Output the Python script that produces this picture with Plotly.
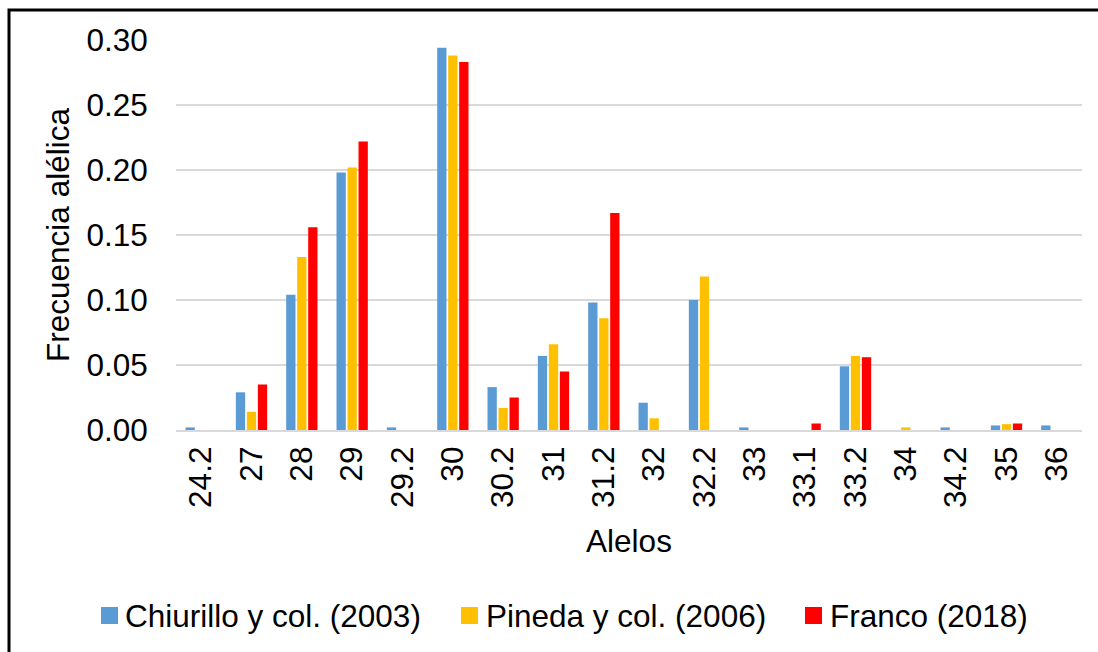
import plotly.graph_objects as go

# Allele categories (x axis)
alelos = ["24.2", "27", "28", "29", "29.2", "30", "30.2", "31", "31.2",
          "32", "32.2", "33", "33.1", "33.2", "34", "34.2", "35", "36"]

# Allele frequencies per study
chiurillo_2003 = [0.002, 0.029, 0.104, 0.198, 0.002, 0.294, 0.033, 0.057, 0.098,
                  0.021, 0.100, 0.002, 0.000, 0.049, 0.000, 0.002, 0.0035, 0.0035]
pineda_2006 = [0.000, 0.014, 0.133, 0.202, 0.000, 0.288, 0.017, 0.066, 0.086,
               0.009, 0.118, 0.000, 0.000, 0.057, 0.002, 0.000, 0.0045, 0.000]
franco_2018 = [0.000, 0.035, 0.156, 0.222, 0.000, 0.283, 0.025, 0.045, 0.167,
               0.000, 0.000, 0.000, 0.005, 0.056, 0.000, 0.000, 0.005, 0.000]

series_names = ["Chiurillo y col. (2003)", "Pineda y col. (2006)", "Franco (2018)"]
series_values = [chiurillo_2003, pineda_2006, franco_2018]
series_colors = ["#5B9BD5", "#FFC000", "#FF0000"]

FONT = "Arial, 'Liberation Sans', sans-serif"
FS = 31.5

fig = go.Figure()
for name, vals, color in zip(series_names, series_values, series_colors):
    fig.add_trace(go.Bar(
        x=alelos, y=vals, name=name,
        marker=dict(color=color, line=dict(width=0)),
        showlegend=False,
    ))

W, H = 1098, 652
L, R, T, B = 176, 16, 40, 222

# pixel -> paper coordinate helpers
px = lambda v: (v - L) / (W - L - R)
py = lambda v: (H - B - v) / (H - T - B)

fig.update_layout(
    width=W, height=H,
    margin=dict(l=L, r=R, t=T, b=B),
    paper_bgcolor="white", plot_bgcolor="white",
    font=dict(family=FONT, size=FS, color="black"),
    barmode="group",
    bargap=0.344,
    bargroupgap=0.155,
    xaxis=dict(
        type="category",
        tickangle=-90,
        tickfont=dict(size=FS),
        showgrid=False,
        showline=True, linecolor="#D9D9D9", linewidth=2,
        ticks="outside", ticklen=2, tickcolor="rgba(0,0,0,0)",
        title=dict(text="Alelos", font=dict(size=FS), standoff=23),
        automargin=False,
    ),
    yaxis=dict(
        range=[0, 0.30],
        dtick=0.05,
        tickformat=".2f",
        tickfont=dict(size=FS),
        showgrid=True, gridcolor="#D9D9D9", gridwidth=1.5,
        zeroline=False,
        showline=False,
        ticks="outside", ticklen=21, tickcolor="rgba(0,0,0,0)",
        title=dict(text="Frecuencia alélica", font=dict(size=FS), standoff=7),
        automargin=False,
    ),
)

# Legend row: coloured squares followed by series names
legend_square_x = [101, 461, 805]
legend_text_x = [125, 486, 830]
legend_y = 615.5
sq = 17
for name, color, sx, tx in zip(series_names, series_colors, legend_square_x, legend_text_x):
    fig.add_shape(
        type="rect", xref="paper", yref="paper",
        x0=px(sx), x1=px(sx + sq), y0=py(legend_y - sq / 2), y1=py(legend_y + sq / 2),
        line=dict(width=0), fillcolor=color,
    )
    fig.add_annotation(
        xref="paper", yref="paper", x=px(tx), y=py(legend_y),
        xanchor="left", yanchor="middle", showarrow=False,
        text=name, font=dict(size=FS, family=FONT, color="black"),
        xshift=-2,
    )

# Black frame around the chart area (right and bottom edges run past the page)
fig.add_shape(
    type="rect", xref="paper", yref="paper",
    x0=px(9), x1=px(W + 20), y0=py(10), y1=py(H + 20),
    line=dict(color="black", width=3), fillcolor="rgba(0,0,0,0)",
    layer="above",
)

fig.write_html("out.html")
